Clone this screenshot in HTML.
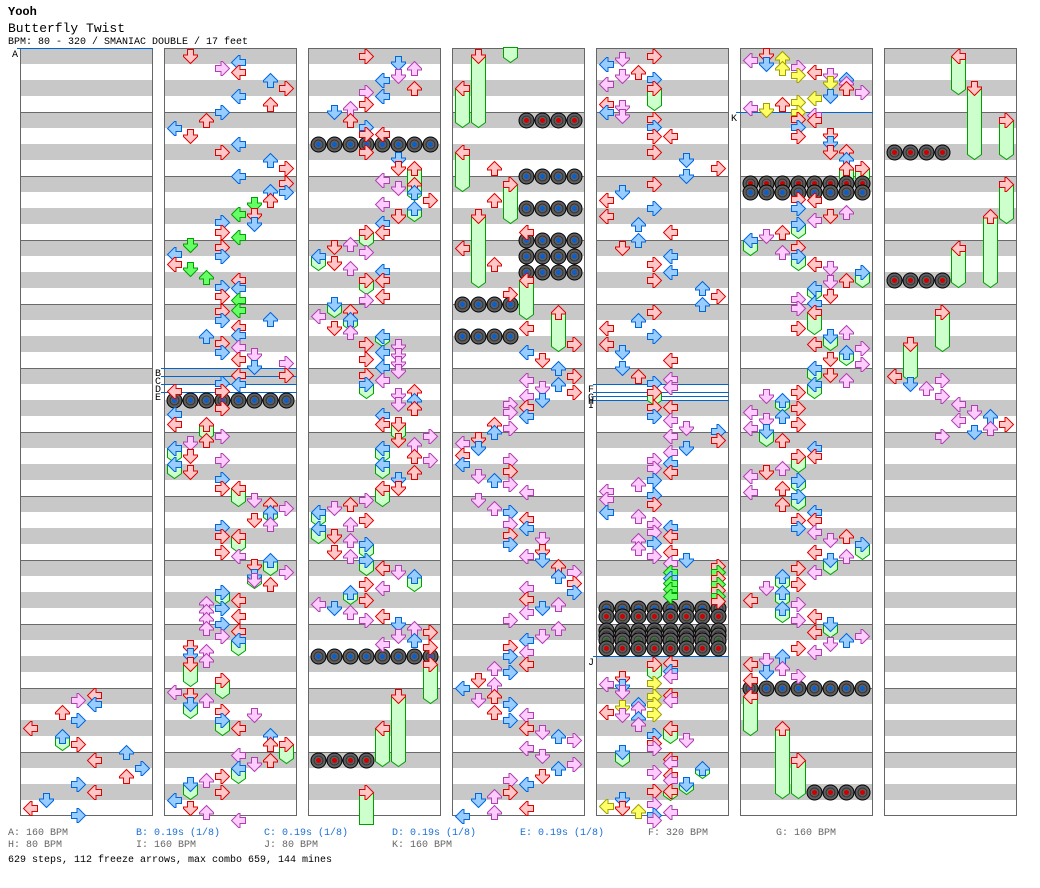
<!DOCTYPE html>
<html><head><meta charset="utf-8"><style>
html,body{margin:0;padding:0;background:#fff;width:1040px;height:888px;overflow:hidden}
svg{display:block}
.r{fill:#ffc8c8;stroke:#e00000}
.b{fill:#99ccff;stroke:#0066dd}
.p{fill:#ffccff;stroke:#b040b0}
.g{fill:#66ff66;stroke:#00a000}
.y{fill:#ffff66;stroke:#a0a000}
.fz path{fill:#ccffcc;stroke:#00a000}
text{font-family:"Liberation Mono",monospace}
</style></head><body>
<svg width="1040" height="888" viewBox="0 0 1040 888" xmlns="http://www.w3.org/2000/svg">
<defs>
<path id="D" d="M-3,-7H3V-1.5H7V0L0,7L-7,0V-1.5H-3Z"/>
<path id="L" d="M7,-3V3H1.5V7H0L-7,0L0,-7H1.5V-3Z"/>
<path id="U" d="M3,7H-3V1.5H-7V0L0,-7L7,0V1.5H3Z"/>
<path id="R" d="M-7,3V-3H-1.5V-7H0L7,0L0,7H-1.5V3Z"/>
<g id="mb"><circle r="7.5" fill="#5e5e5e" stroke="#000"/><circle r="4.5" fill="none" stroke="#333"/><circle r="2.5" fill="#0a5fd0"/></g>
<g id="mr"><circle r="7.5" fill="#5e5e5e" stroke="#000"/><circle r="4.5" fill="none" stroke="#333"/><circle r="2.5" fill="#d00000"/></g>
<g id="mg"><circle r="7.5" fill="#5e5e5e" stroke="#000"/><circle r="4.5" fill="none" stroke="#333"/><circle r="2.5" fill="#2a6a2a"/></g>
<g id="mb4"><use href="#mb" x="0"/><use href="#mb" x="16"/><use href="#mb" x="32"/><use href="#mb" x="48"/></g>
<g id="mr4"><use href="#mr" x="0"/><use href="#mr" x="16"/><use href="#mr" x="32"/><use href="#mr" x="48"/></g>
<g id="mg4"><use href="#mg" x="0"/><use href="#mg" x="16"/><use href="#mg" x="32"/><use href="#mg" x="48"/></g>
<g id="mb8"><use href="#mb4" x="0"/><use href="#mb4" x="64"/></g>
<g id="mr8"><use href="#mr4" x="0"/><use href="#mr4" x="64"/></g>
<g id="mg8"><use href="#mg4" x="0"/><use href="#mg4" x="64"/></g>
<pattern id="st" x="0" y="48" width="1040" height="64" patternUnits="userSpaceOnUse">
<rect width="1040" height="64" fill="#fff"/><rect y="0" width="1040" height="16" fill="#c8c8c8"/><rect y="32" width="1040" height="16" fill="#c8c8c8"/><rect y="0" width="1040" height="1" fill="#6a6a6a"/>
</pattern>
</defs>
<rect width="1040" height="888" fill="#fff"/>
<text x="8" y="15" font-size="12" font-weight="bold" fill="#000">Yooh</text>
<text x="8" y="32" font-size="13" fill="#000">Butterfly Twist</text>
<text x="8" y="44" font-size="10" fill="#000">BPM: 80 - 320 / SMANIAC DOUBLE / 17 feet</text>

<g>
<rect x="20" y="48" width="133" height="768" fill="url(#st)"/>
<rect x="164" y="48" width="133" height="768" fill="url(#st)"/>
<rect x="308" y="48" width="133" height="768" fill="url(#st)"/>
<rect x="452" y="48" width="133" height="768" fill="url(#st)"/>
<rect x="596" y="48" width="133" height="768" fill="url(#st)"/>
<rect x="740" y="48" width="133" height="768" fill="url(#st)"/>
<rect x="884" y="48" width="133" height="768" fill="url(#st)"/>
</g>
<g fill="none" stroke="#666">
<rect x="20.5" y="48.5" width="132" height="767"/>
<rect x="164.5" y="48.5" width="132" height="767"/>
<rect x="308.5" y="48.5" width="132" height="767"/>
<rect x="452.5" y="48.5" width="132" height="767"/>
<rect x="596.5" y="48.5" width="132" height="767"/>
<rect x="740.5" y="48.5" width="132" height="767"/>
<rect x="884.5" y="48.5" width="132" height="767"/>
</g>

<g stroke="#0066cc" stroke-width="1">
<line x1="17" y1="48.5" x2="153" y2="48.5"/>
<line x1="161" y1="368.5" x2="297" y2="368.5"/>
<line x1="161" y1="376.5" x2="297" y2="376.5"/>
<line x1="161" y1="384.5" x2="297" y2="384.5"/>
<line x1="161" y1="392.5" x2="297" y2="392.5"/>
<line x1="593" y1="384.5" x2="729" y2="384.5"/>
<line x1="593" y1="392.5" x2="729" y2="392.5"/>
<line x1="593" y1="396.5" x2="729" y2="396.5"/>
<line x1="593" y1="400.5" x2="729" y2="400.5"/>
<line x1="593" y1="656.5" x2="729" y2="656.5"/>
<line x1="736" y1="112.5" x2="873" y2="112.5"/>
</g>
<g font-size="10" fill="#000">
<text x="12" y="57">A</text>
<text x="155" y="376">B</text>
<text x="155" y="384">C</text>
<text x="155" y="392">D</text>
<text x="155" y="400">E</text>
<text x="588" y="392">F</text>
<text x="588" y="400">G</text>
<text x="588" y="404">H</text>
<text x="588" y="408">I</text>
<text x="588" y="665">J</text>
<text x="731" y="121">K</text>
</g>

<g transform="translate(0.5,0.5)">
<g class="fz">
<path d="M55,736V745L62,750L69,745V736Z"/>
<path d="M199,424V435L206,440L213,435V424Z"/>
<path d="M167,448V457L174,462L181,457V448Z"/>
<path d="M167,464V473L174,478L181,473V464Z"/>
<path d="M231,488V501L238,506L245,501V488Z"/>
<path d="M263,512V517L270,522L277,517V512Z"/>
<path d="M231,536V547L238,552L245,547V536Z"/>
<path d="M263,560V570L270,575L277,570V560Z"/>
<path d="M247,576V583L254,588L261,583V576Z"/>
<path d="M215,592V600L222,605L229,600V592Z"/>
<path d="M231,640V650L238,655L245,650V640Z"/>
<path d="M183,664V681L190,686L197,681V664Z"/>
<path d="M215,680V693L222,698L229,693V680Z"/>
<path d="M183,704V713L190,718L197,713V704Z"/>
<path d="M215,720V730L222,735L229,730V720Z"/>
<path d="M279,744V758L286,763L293,758V744Z"/>
<path d="M231,768V778L238,783L245,778V768Z"/>
<path d="M183,784V794L190,799L197,794V784Z"/>
<path d="M407,168V195L414,200L421,195V168Z"/>
<path d="M407,208V216L414,221L421,216V208Z"/>
<path d="M359,232V242L366,247L373,242V232Z"/>
<path d="M311,256V265L318,270L325,265V256Z"/>
<path d="M359,280V289L366,294L373,289V280Z"/>
<path d="M327,304V312L334,317L341,312V304Z"/>
<path d="M343,319V325L350,330L357,325V319Z"/>
<path d="M375,336V341L382,346L389,341V336Z"/>
<path d="M359,384V393L366,398L373,393V384Z"/>
<path d="M391,424V435L398,440L405,435V424Z"/>
<path d="M375,448V457L382,462L389,457V448Z"/>
<path d="M375,464V473L382,478L389,473V464Z"/>
<path d="M375,488V501L382,506L389,501V488Z"/>
<path d="M311,512V521L318,526L325,521V512Z"/>
<path d="M311,528V538L318,543L325,538V528Z"/>
<path d="M359,544V553L366,558L373,553V544Z"/>
<path d="M359,560V570L366,575L373,570V560Z"/>
<path d="M407,576V586L414,591L421,586V576Z"/>
<path d="M343,592V599L350,604L357,599V592Z"/>
<path d="M423,664V698L430,703L437,698V664Z"/>
<path d="M391,696V761L398,766L405,761V696Z"/>
<path d="M375,728V761L382,766L389,761V728Z"/>
<path d="M359,792V824H373V792Z"/>
<path d="M503,47V57L510,62L517,57V47Z"/>
<path d="M471,56V122L478,127L485,122V56Z"/>
<path d="M455,88V122L462,127L469,122V88Z"/>
<path d="M455,152V186L462,191L469,186V152Z"/>
<path d="M503,184V218L510,223L517,218V184Z"/>
<path d="M471,216V282L478,287L485,282V216Z"/>
<path d="M519,280V314L526,319L533,314V280Z"/>
<path d="M551,312V346L558,351L565,346V312Z"/>
<path d="M647,88V105L654,110L661,105V88Z"/>
<path d="M647,392V400L654,405L661,400V392Z"/>
<path d="M647,664V675L654,680L661,675V664Z"/>
<path d="M663,728V738L670,743L677,738V728Z"/>
<path d="M615,752V761L622,766L629,761V752Z"/>
<path d="M695,768V773L702,778L709,773V768Z"/>
<path d="M679,784V789L686,794L693,789V784Z"/>
<path d="M663,791V795L670,800L677,795V791Z"/>
<path d="M839,168V178L846,183L853,178V168Z"/>
<path d="M855,168V178L862,183L869,178V168Z"/>
<path d="M791,224V233L798,238L805,233V224Z"/>
<path d="M743,240V250L750,255L757,250V240Z"/>
<path d="M791,256V265L798,270L805,265V256Z"/>
<path d="M855,272V282L862,287L869,282V272Z"/>
<path d="M807,288V295L814,300L821,295V288Z"/>
<path d="M807,312V329L814,334L821,329V312Z"/>
<path d="M823,336V345L830,350L837,345V336Z"/>
<path d="M839,352V360L846,365L853,360V352Z"/>
<path d="M807,368V377L814,382L821,377V368Z"/>
<path d="M807,384V393L814,398L821,393V384Z"/>
<path d="M775,400V407L782,412L789,407V400Z"/>
<path d="M759,431V441L766,446L773,441V431Z"/>
<path d="M791,456V467L798,472L805,467V456Z"/>
<path d="M791,480V487L798,492L805,487V480Z"/>
<path d="M791,496V505L798,510L805,505V496Z"/>
<path d="M855,544V554L862,559L869,554V544Z"/>
<path d="M823,560V569L830,574L837,569V560Z"/>
<path d="M775,576V585L782,590L789,585V576Z"/>
<path d="M775,592V601L782,606L789,601V592Z"/>
<path d="M775,608V617L782,622L789,617V608Z"/>
<path d="M823,624V632L830,637L837,632V624Z"/>
<path d="M743,696V730L750,735L757,730V696Z"/>
<path d="M775,728V793L782,798L789,793V728Z"/>
<path d="M791,760V793L798,798L805,793V760Z"/>
<path d="M951,56V89L958,94L965,89V56Z"/>
<path d="M967,88V154L974,159L981,154V88Z"/>
<path d="M999,120V154L1006,159L1013,154V120Z"/>
<path d="M999,184V218L1006,223L1013,218V184Z"/>
<path d="M983,216V282L990,287L997,282V216Z"/>
<path d="M951,248V282L958,287L965,282V248Z"/>
<path d="M935,312V346L942,351L949,346V312Z"/>
<path d="M903,344V376L910,381L917,376V344Z"/>
</g>

<g>
<use href="#mb8" x="174" y="400"/>
<use href="#mb8" x="318" y="144"/>
<use href="#mb8" x="318" y="656"/>
<use href="#mr4" x="318" y="760"/>
<use href="#mr4" x="526" y="120"/>
<use href="#mb4" x="526" y="176"/>
<use href="#mb4" x="526" y="208"/>
<use href="#mb4" x="526" y="240"/>
<use href="#mb4" x="526" y="256"/>
<use href="#mb4" x="526" y="272"/>
<use href="#mb4" x="462" y="304"/>
<use href="#mb4" x="462" y="336"/>
<use href="#mb8" x="606" y="608"/>
<use href="#mr8" x="606" y="616"/>
<use href="#mg8" x="606" y="630"/>
<use href="#mg8" x="606" y="635"/>
<use href="#mg8" x="606" y="640"/>
<use href="#mr8" x="606" y="648"/>
<use href="#mr8" x="750" y="183"/>
<use href="#mb8" x="750" y="192"/>
<use href="#mb8" x="750" y="688"/>
<use href="#mr4" x="814" y="792"/>
<use href="#mr4" x="894" y="152"/>
<use href="#mr4" x="894" y="280"/>
</g>

<g>
<use href="#L" x="94" y="695" class="r"/>
<use href="#R" x="78" y="700" class="p"/>
<use href="#L" x="94" y="704" class="b"/>
<use href="#U" x="62" y="712" class="r"/>
<use href="#R" x="78" y="720" class="b"/>
<use href="#L" x="30" y="728" class="r"/>
<use href="#U" x="62" y="736" class="b"/>
<use href="#R" x="78" y="744" class="r"/>
<use href="#U" x="126" y="752" class="b"/>
<use href="#L" x="94" y="760" class="r"/>
<use href="#R" x="142" y="768" class="b"/>
<use href="#U" x="126" y="776" class="r"/>
<use href="#R" x="78" y="784" class="b"/>
<use href="#L" x="94" y="792" class="r"/>
<use href="#D" x="46" y="800" class="b"/>
<use href="#L" x="30" y="808" class="r"/>
<use href="#R" x="78" y="815" class="b"/>

<use href="#D" x="190" y="56" class="r"/>
<use href="#L" x="238" y="62" class="b"/>
<use href="#R" x="222" y="68" class="p"/>
<use href="#L" x="238" y="72" class="r"/>
<use href="#U" x="270" y="80" class="b"/>
<use href="#R" x="286" y="88" class="r"/>
<use href="#L" x="238" y="96" class="b"/>
<use href="#U" x="270" y="104" class="r"/>
<use href="#R" x="222" y="112" class="b"/>
<use href="#U" x="206" y="120" class="r"/>
<use href="#L" x="174" y="128" class="b"/>
<use href="#D" x="190" y="136" class="r"/>
<use href="#L" x="238" y="144" class="b"/>
<use href="#R" x="222" y="152" class="r"/>
<use href="#U" x="270" y="160" class="b"/>
<use href="#R" x="286" y="168" class="r"/>
<use href="#L" x="238" y="176" class="b"/>
<use href="#R" x="286" y="183" class="r"/>
<use href="#U" x="270" y="191" class="b"/>
<use href="#R" x="286" y="192" class="b"/>
<use href="#U" x="270" y="200" class="r"/>
<use href="#D" x="254" y="204" class="g"/>
<use href="#L" x="238" y="214" class="g"/>
<use href="#D" x="254" y="215" class="r"/>
<use href="#R" x="222" y="222" class="b"/>
<use href="#D" x="254" y="224" class="b"/>
<use href="#R" x="222" y="232" class="r"/>
<use href="#L" x="238" y="237" class="g"/>
<use href="#D" x="190" y="245" class="g"/>
<use href="#R" x="222" y="247" class="r"/>
<use href="#L" x="174" y="254" class="b"/>
<use href="#R" x="222" y="256" class="b"/>
<use href="#L" x="174" y="264" class="r"/>
<use href="#D" x="190" y="269" class="g"/>
<use href="#U" x="206" y="277" class="g"/>
<use href="#L" x="238" y="280" class="r"/>
<use href="#R" x="222" y="287" class="b"/>
<use href="#L" x="238" y="288" class="b"/>
<use href="#R" x="222" y="296" class="r"/>
<use href="#L" x="238" y="300" class="g"/>
<use href="#L" x="238" y="310" class="g"/>
<use href="#R" x="222" y="311" class="r"/>
<use href="#U" x="270" y="319" class="b"/>
<use href="#R" x="222" y="320" class="b"/>
<use href="#L" x="238" y="327" class="r"/>
<use href="#L" x="238" y="335" class="b"/>
<use href="#U" x="206" y="336" class="b"/>
<use href="#R" x="222" y="343" class="r"/>
<use href="#L" x="238" y="347" class="p"/>
<use href="#R" x="222" y="352" class="b"/>
<use href="#D" x="254" y="355" class="p"/>
<use href="#L" x="238" y="359" class="r"/>
<use href="#R" x="286" y="363" class="p"/>
<use href="#D" x="254" y="367" class="b"/>
<use href="#L" x="238" y="375" class="r"/>
<use href="#R" x="286" y="375" class="r"/>
<use href="#R" x="222" y="383" class="b"/>
<use href="#L" x="238" y="384" class="b"/>
<use href="#R" x="222" y="391" class="r"/>
<use href="#L" x="174" y="391" class="r"/>
<use href="#R" x="222" y="408" class="r"/>
<use href="#L" x="174" y="414" class="b"/>
<use href="#L" x="174" y="424" class="r"/>
<use href="#U" x="206" y="424" class="r"/>
<use href="#R" x="222" y="436" class="p"/>
<use href="#U" x="206" y="440" class="r"/>
<use href="#D" x="190" y="443" class="p"/>
<use href="#L" x="174" y="448" class="b"/>
<use href="#D" x="190" y="456" class="r"/>
<use href="#R" x="222" y="460" class="p"/>
<use href="#L" x="174" y="464" class="b"/>
<use href="#D" x="190" y="472" class="r"/>
<use href="#R" x="222" y="479" class="b"/>
<use href="#R" x="222" y="488" class="r"/>
<use href="#L" x="238" y="488" class="r"/>
<use href="#D" x="254" y="500" class="p"/>
<use href="#U" x="270" y="504" class="r"/>
<use href="#R" x="286" y="508" class="p"/>
<use href="#U" x="270" y="512" class="b"/>
<use href="#D" x="254" y="520" class="r"/>
<use href="#U" x="270" y="524" class="p"/>
<use href="#R" x="222" y="527" class="b"/>
<use href="#R" x="222" y="536" class="r"/>
<use href="#L" x="238" y="536" class="r"/>
<use href="#R" x="222" y="552" class="r"/>
<use href="#L" x="238" y="556" class="p"/>
<use href="#U" x="270" y="560" class="b"/>
<use href="#D" x="254" y="566" class="r"/>
<use href="#R" x="286" y="572" class="p"/>
<use href="#D" x="254" y="576" class="b"/>
<use href="#D" x="254" y="580" class="p"/>
<use href="#U" x="270" y="584" class="r"/>
<use href="#R" x="222" y="592" class="b"/>
<use href="#L" x="238" y="600" class="r"/>
<use href="#U" x="206" y="603" class="p"/>
<use href="#R" x="222" y="608" class="b"/>
<use href="#U" x="206" y="611" class="p"/>
<use href="#L" x="238" y="616" class="r"/>
<use href="#U" x="206" y="619" class="p"/>
<use href="#R" x="222" y="624" class="b"/>
<use href="#U" x="206" y="628" class="p"/>
<use href="#L" x="238" y="631" class="r"/>
<use href="#R" x="222" y="636" class="p"/>
<use href="#L" x="238" y="640" class="b"/>
<use href="#D" x="190" y="647" class="r"/>
<use href="#U" x="206" y="651" class="p"/>
<use href="#D" x="190" y="655" class="b"/>
<use href="#U" x="206" y="660" class="p"/>
<use href="#D" x="190" y="664" class="r"/>
<use href="#R" x="222" y="680" class="r"/>
<use href="#L" x="174" y="692" class="p"/>
<use href="#D" x="190" y="695" class="r"/>
<use href="#U" x="206" y="700" class="p"/>
<use href="#D" x="190" y="704" class="b"/>
<use href="#R" x="222" y="711" class="r"/>
<use href="#D" x="254" y="715" class="p"/>
<use href="#R" x="222" y="720" class="b"/>
<use href="#L" x="238" y="728" class="r"/>
<use href="#U" x="270" y="735" class="b"/>
<use href="#U" x="270" y="744" class="r"/>
<use href="#R" x="286" y="744" class="r"/>
<use href="#L" x="238" y="755" class="p"/>
<use href="#U" x="270" y="760" class="r"/>
<use href="#D" x="254" y="764" class="p"/>
<use href="#L" x="238" y="768" class="b"/>
<use href="#R" x="222" y="776" class="r"/>
<use href="#U" x="206" y="780" class="p"/>
<use href="#D" x="190" y="784" class="b"/>
<use href="#R" x="222" y="792" class="r"/>
<use href="#L" x="174" y="800" class="b"/>
<use href="#D" x="190" y="808" class="r"/>
<use href="#U" x="206" y="812" class="p"/>
<use href="#L" x="238" y="820" class="p"/>

<use href="#R" x="366" y="56" class="r"/>
<use href="#D" x="398" y="63" class="b"/>
<use href="#U" x="414" y="68" class="p"/>
<use href="#D" x="398" y="76" class="p"/>
<use href="#L" x="382" y="80" class="b"/>
<use href="#U" x="414" y="88" class="r"/>
<use href="#R" x="366" y="92" class="p"/>
<use href="#L" x="382" y="96" class="b"/>
<use href="#R" x="366" y="104" class="r"/>
<use href="#U" x="350" y="108" class="p"/>
<use href="#D" x="334" y="112" class="b"/>
<use href="#U" x="350" y="120" class="r"/>
<use href="#R" x="366" y="127" class="b"/>
<use href="#R" x="366" y="134" class="r"/>
<use href="#L" x="382" y="134" class="r"/>
<use href="#R" x="366" y="152" class="r"/>
<use href="#D" x="398" y="159" class="b"/>
<use href="#D" x="398" y="168" class="r"/>
<use href="#U" x="414" y="168" class="r"/>
<use href="#L" x="382" y="180" class="p"/>
<use href="#U" x="414" y="184" class="r"/>
<use href="#D" x="398" y="188" class="p"/>
<use href="#U" x="414" y="192" class="b"/>
<use href="#R" x="430" y="200" class="r"/>
<use href="#L" x="382" y="204" class="p"/>
<use href="#U" x="414" y="208" class="b"/>
<use href="#D" x="398" y="216" class="r"/>
<use href="#L" x="382" y="223" class="b"/>
<use href="#R" x="366" y="232" class="r"/>
<use href="#L" x="382" y="232" class="r"/>
<use href="#U" x="350" y="244" class="p"/>
<use href="#D" x="334" y="247" class="r"/>
<use href="#R" x="366" y="252" class="p"/>
<use href="#L" x="318" y="256" class="b"/>
<use href="#D" x="334" y="263" class="r"/>
<use href="#U" x="350" y="268" class="p"/>
<use href="#L" x="382" y="271" class="b"/>
<use href="#R" x="366" y="280" class="r"/>
<use href="#L" x="382" y="280" class="r"/>
<use href="#L" x="382" y="296" class="r"/>
<use href="#R" x="366" y="300" class="p"/>
<use href="#D" x="334" y="304" class="b"/>
<use href="#U" x="350" y="311" class="r"/>
<use href="#L" x="318" y="316" class="p"/>
<use href="#U" x="350" y="319" class="b"/>
<use href="#D" x="334" y="328" class="r"/>
<use href="#U" x="350" y="332" class="p"/>
<use href="#L" x="382" y="336" class="b"/>
<use href="#R" x="366" y="344" class="r"/>
<use href="#D" x="398" y="346" class="p"/>
<use href="#L" x="382" y="352" class="b"/>
<use href="#D" x="398" y="355" class="p"/>
<use href="#R" x="366" y="359" class="r"/>
<use href="#D" x="398" y="363" class="p"/>
<use href="#L" x="382" y="367" class="b"/>
<use href="#D" x="398" y="371" class="p"/>
<use href="#R" x="366" y="375" class="r"/>
<use href="#L" x="382" y="380" class="p"/>
<use href="#R" x="366" y="384" class="b"/>
<use href="#U" x="414" y="391" class="r"/>
<use href="#D" x="398" y="395" class="p"/>
<use href="#U" x="414" y="400" class="b"/>
<use href="#D" x="398" y="404" class="p"/>
<use href="#U" x="414" y="408" class="r"/>
<use href="#L" x="382" y="415" class="b"/>
<use href="#L" x="382" y="424" class="r"/>
<use href="#D" x="398" y="424" class="r"/>
<use href="#R" x="430" y="436" class="p"/>
<use href="#D" x="398" y="440" class="r"/>
<use href="#U" x="414" y="444" class="p"/>
<use href="#L" x="382" y="448" class="b"/>
<use href="#U" x="414" y="456" class="r"/>
<use href="#R" x="430" y="460" class="p"/>
<use href="#L" x="382" y="464" class="b"/>
<use href="#U" x="414" y="472" class="r"/>
<use href="#D" x="398" y="479" class="b"/>
<use href="#L" x="382" y="488" class="r"/>
<use href="#D" x="398" y="488" class="r"/>
<use href="#R" x="366" y="500" class="p"/>
<use href="#U" x="350" y="504" class="r"/>
<use href="#D" x="334" y="508" class="p"/>
<use href="#L" x="318" y="512" class="b"/>
<use href="#R" x="366" y="520" class="r"/>
<use href="#U" x="350" y="524" class="p"/>
<use href="#L" x="318" y="528" class="b"/>
<use href="#D" x="334" y="536" class="r"/>
<use href="#U" x="350" y="540" class="p"/>
<use href="#R" x="366" y="544" class="b"/>
<use href="#D" x="334" y="552" class="r"/>
<use href="#U" x="350" y="556" class="p"/>
<use href="#R" x="366" y="560" class="b"/>
<use href="#L" x="382" y="568" class="r"/>
<use href="#D" x="398" y="572" class="p"/>
<use href="#U" x="414" y="576" class="b"/>
<use href="#R" x="366" y="584" class="r"/>
<use href="#L" x="382" y="588" class="p"/>
<use href="#U" x="350" y="592" class="b"/>
<use href="#R" x="366" y="600" class="r"/>
<use href="#L" x="318" y="604" class="p"/>
<use href="#D" x="334" y="608" class="b"/>
<use href="#U" x="350" y="612" class="p"/>
<use href="#L" x="382" y="616" class="r"/>
<use href="#R" x="366" y="620" class="p"/>
<use href="#D" x="398" y="624" class="b"/>
<use href="#U" x="414" y="628" class="p"/>
<use href="#R" x="430" y="632" class="r"/>
<use href="#D" x="398" y="636" class="p"/>
<use href="#U" x="414" y="640" class="b"/>
<use href="#L" x="382" y="644" class="p"/>
<use href="#R" x="430" y="647" class="r"/>
<use href="#R" x="430" y="664" class="r"/>
<use href="#D" x="398" y="696" class="r"/>
<use href="#L" x="382" y="728" class="r"/>
<use href="#R" x="366" y="792" class="r"/>

<use href="#D" x="478" y="56" class="r"/>
<use href="#L" x="462" y="88" class="r"/>
<use href="#L" x="462" y="152" class="r"/>
<use href="#U" x="494" y="168" class="r"/>
<use href="#R" x="510" y="184" class="r"/>
<use href="#U" x="494" y="200" class="r"/>
<use href="#D" x="478" y="216" class="r"/>
<use href="#L" x="526" y="232" class="r"/>
<use href="#L" x="462" y="248" class="r"/>
<use href="#U" x="494" y="264" class="r"/>
<use href="#L" x="526" y="280" class="r"/>
<use href="#R" x="510" y="294" class="r"/>
<use href="#U" x="558" y="312" class="r"/>
<use href="#L" x="526" y="328" class="r"/>
<use href="#R" x="574" y="344" class="r"/>
<use href="#L" x="526" y="352" class="b"/>
<use href="#D" x="542" y="360" class="r"/>
<use href="#U" x="558" y="368" class="b"/>
<use href="#R" x="574" y="376" class="r"/>
<use href="#L" x="526" y="380" class="p"/>
<use href="#U" x="558" y="384" class="b"/>
<use href="#D" x="542" y="388" class="p"/>
<use href="#R" x="574" y="392" class="r"/>
<use href="#L" x="526" y="396" class="p"/>
<use href="#D" x="542" y="400" class="b"/>
<use href="#R" x="510" y="404" class="p"/>
<use href="#L" x="526" y="407" class="r"/>
<use href="#R" x="510" y="412" class="p"/>
<use href="#L" x="526" y="416" class="b"/>
<use href="#U" x="494" y="424" class="r"/>
<use href="#R" x="510" y="428" class="p"/>
<use href="#U" x="494" y="432" class="b"/>
<use href="#D" x="478" y="439" class="r"/>
<use href="#L" x="462" y="443" class="p"/>
<use href="#D" x="478" y="448" class="b"/>
<use href="#L" x="462" y="455" class="r"/>
<use href="#R" x="510" y="460" class="p"/>
<use href="#L" x="462" y="464" class="b"/>
<use href="#R" x="510" y="471" class="r"/>
<use href="#D" x="478" y="476" class="p"/>
<use href="#U" x="494" y="480" class="b"/>
<use href="#R" x="510" y="484" class="p"/>
<use href="#L" x="526" y="492" class="p"/>
<use href="#D" x="478" y="500" class="p"/>
<use href="#U" x="494" y="508" class="p"/>
<use href="#R" x="510" y="512" class="b"/>
<use href="#L" x="526" y="519" class="r"/>
<use href="#R" x="510" y="524" class="p"/>
<use href="#L" x="526" y="528" class="b"/>
<use href="#R" x="510" y="535" class="r"/>
<use href="#D" x="542" y="539" class="p"/>
<use href="#R" x="510" y="544" class="b"/>
<use href="#D" x="542" y="551" class="r"/>
<use href="#L" x="526" y="556" class="p"/>
<use href="#D" x="542" y="560" class="b"/>
<use href="#U" x="558" y="566" class="r"/>
<use href="#R" x="574" y="572" class="p"/>
<use href="#U" x="558" y="576" class="b"/>
<use href="#R" x="574" y="583" class="r"/>
<use href="#L" x="526" y="588" class="p"/>
<use href="#R" x="574" y="592" class="b"/>
<use href="#L" x="526" y="599" class="r"/>
<use href="#U" x="558" y="604" class="p"/>
<use href="#D" x="542" y="608" class="b"/>
<use href="#L" x="526" y="612" class="p"/>
<use href="#R" x="510" y="620" class="p"/>
<use href="#U" x="558" y="628" class="p"/>
<use href="#D" x="542" y="636" class="p"/>
<use href="#L" x="526" y="640" class="b"/>
<use href="#R" x="510" y="647" class="r"/>
<use href="#L" x="526" y="652" class="p"/>
<use href="#R" x="510" y="656" class="b"/>
<use href="#L" x="526" y="664" class="r"/>
<use href="#U" x="494" y="668" class="p"/>
<use href="#R" x="510" y="672" class="b"/>
<use href="#D" x="478" y="680" class="r"/>
<use href="#U" x="494" y="684" class="p"/>
<use href="#L" x="462" y="688" class="b"/>
<use href="#U" x="494" y="696" class="r"/>
<use href="#D" x="478" y="700" class="p"/>
<use href="#R" x="510" y="704" class="b"/>
<use href="#U" x="494" y="712" class="r"/>
<use href="#L" x="526" y="715" class="p"/>
<use href="#R" x="510" y="720" class="b"/>
<use href="#L" x="526" y="728" class="r"/>
<use href="#D" x="542" y="732" class="p"/>
<use href="#U" x="558" y="736" class="b"/>
<use href="#R" x="574" y="740" class="p"/>
<use href="#L" x="526" y="748" class="p"/>
<use href="#D" x="542" y="756" class="p"/>
<use href="#R" x="574" y="764" class="p"/>
<use href="#U" x="558" y="768" class="b"/>
<use href="#D" x="542" y="776" class="r"/>
<use href="#R" x="510" y="780" class="p"/>
<use href="#L" x="526" y="784" class="b"/>
<use href="#R" x="510" y="792" class="r"/>
<use href="#U" x="494" y="796" class="p"/>
<use href="#D" x="478" y="800" class="b"/>
<use href="#L" x="526" y="808" class="r"/>
<use href="#U" x="494" y="812" class="p"/>
<use href="#L" x="462" y="816" class="b"/>

<use href="#R" x="654" y="56" class="r"/>
<use href="#D" x="622" y="59" class="p"/>
<use href="#L" x="606" y="64" class="b"/>
<use href="#U" x="638" y="72" class="r"/>
<use href="#D" x="622" y="76" class="p"/>
<use href="#R" x="654" y="79" class="b"/>
<use href="#L" x="606" y="84" class="p"/>
<use href="#R" x="654" y="88" class="r"/>
<use href="#L" x="606" y="104" class="r"/>
<use href="#D" x="622" y="107" class="p"/>
<use href="#L" x="606" y="112" class="b"/>
<use href="#D" x="622" y="116" class="p"/>
<use href="#R" x="654" y="119" class="r"/>
<use href="#R" x="654" y="127" class="b"/>
<use href="#R" x="654" y="136" class="r"/>
<use href="#L" x="670" y="136" class="r"/>
<use href="#R" x="654" y="152" class="r"/>
<use href="#D" x="686" y="160" class="b"/>
<use href="#R" x="718" y="168" class="r"/>
<use href="#D" x="686" y="176" class="b"/>
<use href="#R" x="654" y="184" class="r"/>
<use href="#D" x="622" y="192" class="b"/>
<use href="#L" x="606" y="200" class="r"/>
<use href="#R" x="654" y="208" class="b"/>
<use href="#L" x="606" y="216" class="r"/>
<use href="#U" x="638" y="224" class="b"/>
<use href="#L" x="670" y="232" class="r"/>
<use href="#U" x="638" y="240" class="b"/>
<use href="#D" x="622" y="248" class="r"/>
<use href="#L" x="670" y="256" class="b"/>
<use href="#R" x="654" y="264" class="r"/>
<use href="#L" x="670" y="272" class="b"/>
<use href="#R" x="654" y="280" class="r"/>
<use href="#U" x="702" y="288" class="b"/>
<use href="#R" x="718" y="296" class="r"/>
<use href="#U" x="702" y="304" class="b"/>
<use href="#R" x="654" y="312" class="r"/>
<use href="#U" x="638" y="320" class="b"/>
<use href="#L" x="606" y="328" class="r"/>
<use href="#R" x="654" y="336" class="b"/>
<use href="#L" x="606" y="344" class="r"/>
<use href="#D" x="622" y="352" class="b"/>
<use href="#L" x="670" y="360" class="r"/>
<use href="#D" x="622" y="368" class="b"/>
<use href="#U" x="638" y="376" class="r"/>
<use href="#L" x="670" y="379" class="p"/>
<use href="#R" x="654" y="383" class="b"/>
<use href="#L" x="670" y="387" class="p"/>
<use href="#R" x="654" y="392" class="r"/>
<use href="#R" x="654" y="407" class="r"/>
<use href="#L" x="670" y="407" class="r"/>
<use href="#R" x="654" y="416" class="b"/>
<use href="#L" x="670" y="420" class="p"/>
<use href="#D" x="686" y="428" class="p"/>
<use href="#R" x="718" y="431" class="b"/>
<use href="#L" x="670" y="436" class="p"/>
<use href="#R" x="718" y="440" class="r"/>
<use href="#D" x="686" y="448" class="b"/>
<use href="#L" x="670" y="452" class="p"/>
<use href="#R" x="654" y="460" class="p"/>
<use href="#L" x="670" y="463" class="b"/>
<use href="#R" x="654" y="468" class="p"/>
<use href="#L" x="670" y="472" class="r"/>
<use href="#R" x="654" y="480" class="b"/>
<use href="#U" x="638" y="484" class="p"/>
<use href="#L" x="606" y="491" class="p"/>
<use href="#R" x="654" y="495" class="b"/>
<use href="#L" x="606" y="499" class="p"/>
<use href="#R" x="654" y="504" class="r"/>
<use href="#L" x="606" y="512" class="b"/>
<use href="#U" x="638" y="516" class="p"/>
<use href="#R" x="654" y="524" class="p"/>
<use href="#L" x="670" y="527" class="b"/>
<use href="#R" x="654" y="532" class="p"/>
<use href="#L" x="670" y="536" class="r"/>
<use href="#U" x="638" y="540" class="p"/>
<use href="#R" x="654" y="543" class="b"/>
<use href="#U" x="638" y="548" class="p"/>
<use href="#L" x="670" y="552" class="r"/>
<use href="#R" x="654" y="556" class="p"/>
<use href="#D" x="686" y="560" class="b"/>
<use href="#L" x="670" y="563" class="p"/>
<use href="#R" x="718" y="566" class="r"/>
<use href="#L" x="670" y="572" class="g"/>
<use href="#R" x="718" y="572" class="g"/>
<use href="#L" x="670" y="578" class="b"/>
<use href="#R" x="718" y="578" class="r"/>
<use href="#L" x="670" y="583" class="g"/>
<use href="#R" x="718" y="584" class="g"/>
<use href="#L" x="670" y="589" class="g"/>
<use href="#R" x="718" y="590" class="r"/>
<use href="#L" x="670" y="596" class="g"/>
<use href="#R" x="718" y="596" class="g"/>
<use href="#R" x="718" y="601" class="r"/>
<use href="#L" x="670" y="663" class="r"/>
<use href="#R" x="654" y="664" class="r"/>
<use href="#L" x="670" y="671" class="b"/>
<use href="#L" x="670" y="676" class="p"/>
<use href="#D" x="622" y="678" class="r"/>
<use href="#R" x="654" y="683" class="y"/>
<use href="#L" x="606" y="684" class="p"/>
<use href="#D" x="622" y="686" class="b"/>
<use href="#D" x="622" y="692" class="p"/>
<use href="#L" x="670" y="695" class="r"/>
<use href="#R" x="654" y="696" class="y"/>
<use href="#L" x="670" y="700" class="p"/>
<use href="#U" x="638" y="704" class="b"/>
<use href="#R" x="654" y="704" class="y"/>
<use href="#D" x="622" y="707" class="y"/>
<use href="#U" x="638" y="708" class="p"/>
<use href="#L" x="606" y="712" class="r"/>
<use href="#R" x="654" y="714" class="y"/>
<use href="#D" x="622" y="715" class="p"/>
<use href="#U" x="638" y="718" class="b"/>
<use href="#U" x="638" y="724" class="p"/>
<use href="#L" x="670" y="728" class="r"/>
<use href="#R" x="654" y="735" class="b"/>
<use href="#D" x="686" y="740" class="p"/>
<use href="#R" x="654" y="743" class="r"/>
<use href="#R" x="654" y="748" class="p"/>
<use href="#D" x="622" y="752" class="b"/>
<use href="#L" x="670" y="759" class="r"/>
<use href="#L" x="670" y="763" class="p"/>
<use href="#U" x="702" y="768" class="b"/>
<use href="#R" x="654" y="772" class="p"/>
<use href="#L" x="670" y="775" class="r"/>
<use href="#L" x="670" y="780" class="p"/>
<use href="#D" x="686" y="784" class="b"/>
<use href="#L" x="670" y="791" class="r"/>
<use href="#R" x="654" y="791" class="r"/>
<use href="#D" x="622" y="799" class="b"/>
<use href="#R" x="654" y="804" class="p"/>
<use href="#L" x="606" y="806" class="y"/>
<use href="#D" x="622" y="808" class="r"/>
<use href="#U" x="638" y="811" class="y"/>
<use href="#L" x="670" y="812" class="p"/>
<use href="#R" x="654" y="815" class="b"/>
<use href="#R" x="654" y="820" class="p"/>

<use href="#D" x="766" y="55" class="r"/>
<use href="#U" x="782" y="58" class="y"/>
<use href="#L" x="750" y="60" class="p"/>
<use href="#D" x="766" y="64" class="b"/>
<use href="#R" x="798" y="67" class="p"/>
<use href="#U" x="782" y="68" class="y"/>
<use href="#L" x="814" y="72" class="r"/>
<use href="#R" x="798" y="75" class="y"/>
<use href="#D" x="830" y="75" class="p"/>
<use href="#U" x="846" y="79" class="b"/>
<use href="#D" x="830" y="83" class="y"/>
<use href="#U" x="846" y="83" class="p"/>
<use href="#U" x="846" y="88" class="r"/>
<use href="#R" x="862" y="92" class="p"/>
<use href="#D" x="830" y="96" class="b"/>
<use href="#L" x="814" y="98" class="y"/>
<use href="#R" x="798" y="102" class="y"/>
<use href="#U" x="782" y="104" class="r"/>
<use href="#L" x="750" y="108" class="p"/>
<use href="#D" x="766" y="110" class="y"/>
<use href="#R" x="798" y="112" class="y"/>
<use href="#L" x="814" y="115" class="p"/>
<use href="#R" x="798" y="119" class="r"/>
<use href="#L" x="814" y="120" class="r"/>
<use href="#R" x="798" y="127" class="b"/>
<use href="#D" x="830" y="135" class="r"/>
<use href="#R" x="798" y="136" class="r"/>
<use href="#D" x="830" y="143" class="b"/>
<use href="#U" x="846" y="151" class="r"/>
<use href="#D" x="830" y="152" class="r"/>
<use href="#U" x="846" y="159" class="b"/>
<use href="#U" x="846" y="168" class="r"/>
<use href="#R" x="862" y="168" class="r"/>
<use href="#R" x="798" y="199" class="r"/>
<use href="#L" x="814" y="200" class="r"/>
<use href="#R" x="798" y="208" class="b"/>
<use href="#U" x="846" y="212" class="p"/>
<use href="#D" x="830" y="216" class="r"/>
<use href="#L" x="814" y="220" class="p"/>
<use href="#R" x="798" y="224" class="b"/>
<use href="#U" x="782" y="232" class="r"/>
<use href="#D" x="766" y="236" class="p"/>
<use href="#L" x="750" y="240" class="b"/>
<use href="#R" x="798" y="247" class="r"/>
<use href="#U" x="782" y="252" class="p"/>
<use href="#R" x="798" y="256" class="b"/>
<use href="#L" x="814" y="264" class="r"/>
<use href="#D" x="830" y="268" class="p"/>
<use href="#R" x="862" y="272" class="b"/>
<use href="#U" x="846" y="280" class="r"/>
<use href="#D" x="830" y="282" class="p"/>
<use href="#L" x="814" y="288" class="b"/>
<use href="#D" x="830" y="296" class="r"/>
<use href="#R" x="798" y="299" class="p"/>
<use href="#L" x="814" y="303" class="b"/>
<use href="#R" x="798" y="308" class="p"/>
<use href="#L" x="814" y="312" class="r"/>
<use href="#R" x="798" y="328" class="r"/>
<use href="#U" x="846" y="332" class="p"/>
<use href="#D" x="830" y="336" class="b"/>
<use href="#L" x="814" y="344" class="r"/>
<use href="#R" x="862" y="348" class="p"/>
<use href="#U" x="846" y="352" class="b"/>
<use href="#D" x="830" y="359" class="r"/>
<use href="#R" x="862" y="364" class="p"/>
<use href="#L" x="814" y="368" class="b"/>
<use href="#D" x="830" y="375" class="r"/>
<use href="#U" x="846" y="380" class="p"/>
<use href="#L" x="814" y="384" class="b"/>
<use href="#R" x="798" y="392" class="r"/>
<use href="#D" x="766" y="396" class="p"/>
<use href="#U" x="782" y="400" class="b"/>
<use href="#R" x="798" y="408" class="r"/>
<use href="#L" x="750" y="412" class="p"/>
<use href="#U" x="782" y="416" class="b"/>
<use href="#D" x="766" y="420" class="p"/>
<use href="#R" x="798" y="424" class="r"/>
<use href="#L" x="750" y="428" class="p"/>
<use href="#D" x="766" y="431" class="b"/>
<use href="#U" x="782" y="440" class="r"/>
<use href="#L" x="814" y="448" class="b"/>
<use href="#R" x="798" y="456" class="r"/>
<use href="#L" x="814" y="456" class="r"/>
<use href="#U" x="782" y="468" class="p"/>
<use href="#D" x="766" y="472" class="r"/>
<use href="#L" x="750" y="476" class="p"/>
<use href="#R" x="798" y="480" class="b"/>
<use href="#U" x="782" y="488" class="r"/>
<use href="#L" x="750" y="492" class="p"/>
<use href="#R" x="798" y="496" class="b"/>
<use href="#U" x="782" y="504" class="r"/>
<use href="#L" x="814" y="512" class="b"/>
<use href="#R" x="798" y="520" class="r"/>
<use href="#L" x="814" y="520" class="r"/>
<use href="#R" x="798" y="528" class="b"/>
<use href="#L" x="814" y="532" class="p"/>
<use href="#U" x="846" y="536" class="r"/>
<use href="#D" x="830" y="540" class="p"/>
<use href="#R" x="862" y="544" class="b"/>
<use href="#L" x="814" y="552" class="r"/>
<use href="#U" x="846" y="556" class="p"/>
<use href="#D" x="830" y="560" class="b"/>
<use href="#R" x="798" y="568" class="r"/>
<use href="#L" x="814" y="572" class="p"/>
<use href="#U" x="782" y="576" class="b"/>
<use href="#R" x="798" y="584" class="r"/>
<use href="#D" x="766" y="588" class="p"/>
<use href="#U" x="782" y="592" class="b"/>
<use href="#L" x="750" y="600" class="r"/>
<use href="#R" x="798" y="604" class="p"/>
<use href="#U" x="782" y="608" class="b"/>
<use href="#L" x="814" y="616" class="r"/>
<use href="#R" x="798" y="620" class="p"/>
<use href="#D" x="830" y="624" class="b"/>
<use href="#L" x="814" y="632" class="r"/>
<use href="#R" x="862" y="636" class="p"/>
<use href="#U" x="846" y="640" class="b"/>
<use href="#D" x="830" y="644" class="p"/>
<use href="#R" x="798" y="648" class="r"/>
<use href="#L" x="814" y="652" class="p"/>
<use href="#U" x="782" y="656" class="b"/>
<use href="#D" x="766" y="660" class="p"/>
<use href="#L" x="750" y="664" class="r"/>
<use href="#U" x="782" y="668" class="p"/>
<use href="#D" x="766" y="672" class="b"/>
<use href="#R" x="798" y="676" class="p"/>
<use href="#L" x="750" y="680" class="r"/>
<use href="#L" x="750" y="696" class="r"/>
<use href="#U" x="782" y="728" class="r"/>
<use href="#R" x="798" y="760" class="r"/>

<use href="#L" x="958" y="56" class="r"/>
<use href="#D" x="974" y="88" class="r"/>
<use href="#R" x="1006" y="120" class="r"/>
<use href="#R" x="1006" y="184" class="r"/>
<use href="#U" x="990" y="216" class="r"/>
<use href="#L" x="958" y="248" class="r"/>
<use href="#R" x="942" y="312" class="r"/>
<use href="#D" x="910" y="344" class="r"/>
<use href="#L" x="894" y="376" class="r"/>
<use href="#R" x="942" y="380" class="p"/>
<use href="#D" x="910" y="384" class="b"/>
<use href="#U" x="926" y="388" class="p"/>
<use href="#R" x="942" y="396" class="p"/>
<use href="#L" x="958" y="404" class="p"/>
<use href="#D" x="974" y="412" class="p"/>
<use href="#U" x="990" y="416" class="b"/>
<use href="#L" x="958" y="420" class="p"/>
<use href="#R" x="1006" y="424" class="r"/>
<use href="#U" x="990" y="428" class="p"/>
<use href="#D" x="974" y="432" class="b"/>
<use href="#R" x="942" y="436" class="p"/>
</g>
</g>

<g font-size="10">
<text x="8" y="835" fill="#666">A: 160 BPM</text>
<text x="136" y="835" fill="#1a6fd6">B: 0.19s (1/8)</text>
<text x="264" y="835" fill="#1a6fd6">C: 0.19s (1/8)</text>
<text x="392" y="835" fill="#1a6fd6">D: 0.19s (1/8)</text>
<text x="520" y="835" fill="#1a6fd6">E: 0.19s (1/8)</text>
<text x="648" y="835" fill="#666">F: 320 BPM</text>
<text x="776" y="835" fill="#666">G: 160 BPM</text>
<text x="8" y="847" fill="#666">H: 80 BPM</text>
<text x="136" y="847" fill="#666">I: 160 BPM</text>
<text x="264" y="847" fill="#666">J: 80 BPM</text>
<text x="392" y="847" fill="#666">K: 160 BPM</text>
<text x="8" y="862" fill="#000">629 steps, 112 freeze arrows, max combo 659, 144 mines</text>
</g>
</svg>
</body></html>
